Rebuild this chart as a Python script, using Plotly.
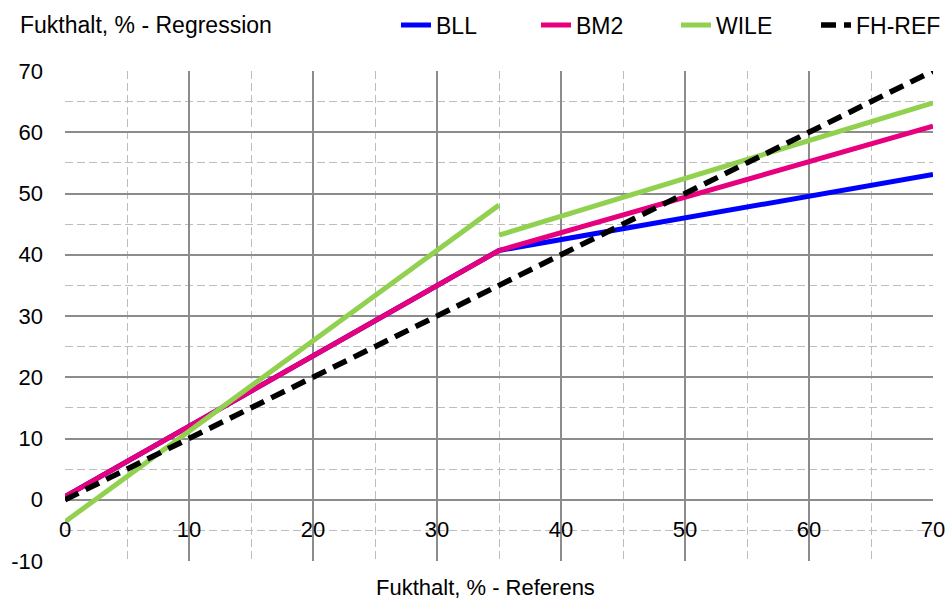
import plotly.graph_objects as go

# Data
x_ref = [0, 35, 70]
bll = [0.5, 40.7, 53.1]
bm2 = [0.5, 40.7, 61.0]
wile_x = [0, 35, None, 35, 70]
wile_y = [-3.6, 48.1, None, 43.2, 64.8]
fh_x = [0, 70]
fh_y = [0, 70]

x_ticks = [0, 10, 20, 30, 40, 50, 60, 70]
y_ticks = [-10, 0, 10, 20, 30, 40, 50, 60, 70]

FONT = "Liberation Sans, Arial, sans-serif"

fig = go.Figure()
fig.add_trace(go.Scatter(x=x_ref, y=bll, mode="lines", name="BLL",
                         line=dict(color="#0000FF", width=5)))
fig.add_trace(go.Scatter(x=x_ref, y=bm2, mode="lines", name="BM2",
                         line=dict(color="#E6007E", width=5)))
fig.add_trace(go.Scatter(x=wile_x, y=wile_y, mode="lines", name="WILE",
                         line=dict(color="#92D050", width=5), connectgaps=False))
fig.add_trace(go.Scatter(x=fh_x, y=fh_y, mode="lines", name="FH-REF",
                         line=dict(color="#000000", width=5.5, dash="15px,8px")))

fig.update_layout(
    width=948, height=603,
    margin=dict(l=65, r=15, t=71, b=42, autoexpand=False),
    paper_bgcolor="white", plot_bgcolor="white",
    font=dict(family=FONT, size=22, color="#000000"),
    showlegend=True,
    legend=dict(orientation="h", xref="container", yref="container",
                x=396 / 948, xanchor="left", y=1 - 25 / 603, yanchor="middle",
                font=dict(size=23), bgcolor="rgba(0,0,0,0)",
                entrywidth=95, entrywidthmode="pixels"),
    xaxis=dict(range=[0, 70], tickvals=x_ticks, ticktext=[str(v) for v in x_ticks],
               anchor="free", position=0.125, showline=False, zeroline=False,
               automargin=False,
               showgrid=True, gridcolor="#8C8C8C", gridwidth=1.5,
               ticks="", ticklabelstandoff=14,
               minor=dict(dtick=5, tick0=0, showgrid=True, gridcolor="#BDBDBD",
                          griddash="8px,4px", gridwidth=1.3),
               tickfont=dict(size=22)),
    yaxis=dict(range=[-10, 70], tickvals=y_ticks, ticktext=[str(v) for v in y_ticks],
               showline=False, zeroline=False, showgrid=True, automargin=False,
               gridcolor="#8C8C8C", gridwidth=1.5, ticks="", ticklabelstandoff=21,
               minor=dict(dtick=5, tick0=0, showgrid=True, gridcolor="#BDBDBD",
                          griddash="8px,4px", gridwidth=1.3),
               tickfont=dict(size=22)),
    annotations=[
        dict(text="Fukthalt, % - Regression", xref="paper", yref="paper",
             x=-0.054, y=1.094, xanchor="left", yanchor="middle", showarrow=False,
             font=dict(size=23)),
        dict(text="Fukthalt, % - Referens", xref="paper", yref="paper",
             x=0.485, y=0, xanchor="center", yanchor="top", yshift=-12,
             showarrow=False, font=dict(size=22)),
    ],
)

fig.write_html("out.html")
